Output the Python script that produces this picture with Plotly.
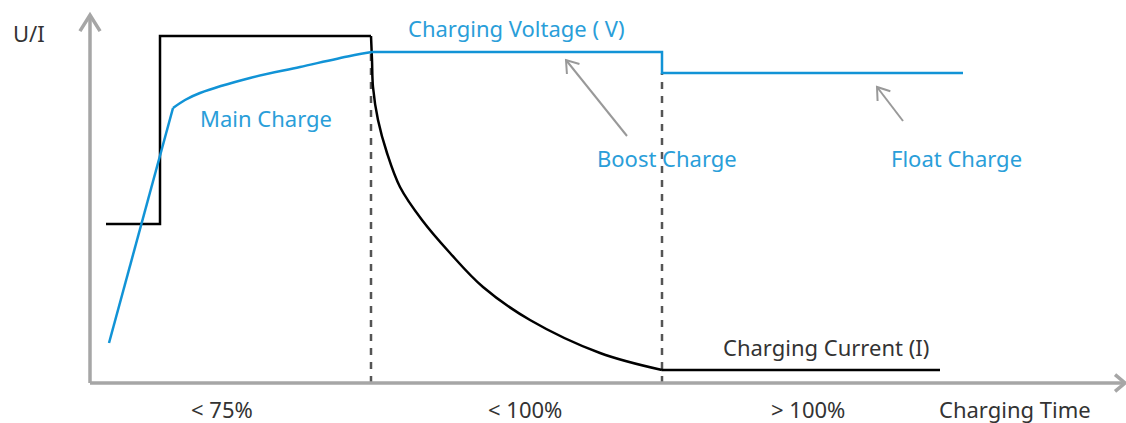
import math
import plotly.graph_objects as go

# ---- data (time units along x, level units along y; origin at axis corner) ----
# charging current: constant low phase, high constant phase, then decay, then float
current_step_time = [16, 70, 70, 281]
current_step_level = [159, 159, 347, 347]
current_decay_time = [281, 282, 283, 288, 297, 310, 332, 360, 393, 440, 510, 572]
current_decay_level = [347, 323, 296, 263, 230, 196, 163, 130, 96, 63, 30, 13]
current_float_time = [572, 850]
current_float_level = [13, 13]

# charging voltage: ramp, slow rise, boost level, float level
voltage_ramp_time = [19, 83]
voltage_ramp_level = [40, 275]
voltage_rise_time = [83, 95, 110, 160, 210, 260, 282]
voltage_rise_level = [275, 283, 290, 305, 316, 327, 331]
voltage_hold_time = [282, 572, 572, 873]
voltage_hold_level = [331, 331, 310, 310]

phase_bounds = [281, 572]
phase_tops = [331, 310]
phase_labels = ["&lt; 75%", "&lt; 100%", "&gt; 100%"]
phase_label_x = [132, 435, 718]

axis_x_end = 1035
axis_y_end = 368

BLUE = "#1193d6"
BLUE_TXT = "#2a9ed9"
GRAY = "#a6a6a6"
DARK = "#333333"
FONT = "Noto Sans"

fig = go.Figure()

def line_trace(x, y, color, shape="linear"):
    fig.add_trace(go.Scatter(x=x, y=y, mode="lines",
                             line=dict(color=color, width=2.5, shape=shape, smoothing=1.0),
                             hoverinfo="skip"))

line_trace(current_step_time, current_step_level, "#000000")
line_trace(current_decay_time, current_decay_level, "#000000", "spline")
line_trace(current_float_time, current_float_level, "#000000")
line_trace(voltage_ramp_time, voltage_ramp_level, BLUE)
line_trace(voltage_rise_time, voltage_rise_level, BLUE, "spline")
line_trace(voltage_hold_time, voltage_hold_level, BLUE)

shapes = []
for bx, top in zip(phase_bounds, phase_tops):
    shapes.append(dict(type="line", x0=bx, x1=bx, y0=0, y1=top,
                       line=dict(color="#555555", width=2.5, dash="7px,7px"), layer="below"))

def chevron(tx, ty, dx, dy, length, color, width, half_angle=35):
    n = math.hypot(dx, dy)
    ux, uy = dx / n, dy / n
    pts = []
    for ang in (math.radians(half_angle), -math.radians(half_angle)):
        ca, sa = math.cos(ang), math.sin(ang)
        bx = -(ux * ca - uy * sa)
        by = -(ux * sa + uy * ca)
        pts.append((tx + bx * length, ty + by * length))
    path = f"M {pts[0][0]},{pts[0][1]} L {tx},{ty} L {pts[1][0]},{pts[1][1]}"
    return dict(type="path", path=path, line=dict(color=color, width=width))

# axes
shapes.append(dict(type="line", x0=0, x1=axis_x_end, y0=0, y1=0, line=dict(color=GRAY, width=3.5)))
shapes.append(dict(type="line", x0=0, x1=0, y0=0, y1=axis_y_end, line=dict(color=GRAY, width=3.5)))
shapes.append(chevron(axis_x_end, 0, 1, 0, 13, GRAY, 3.5, 40))
shapes.append(chevron(0, axis_y_end, 0, 1, 19, GRAY, 3.5, 32))

# pointer arrows
pointers = [((537, 247), (476, 323)), ((813, 262), (787, 296))]
for (x0, y0), (x1, y1) in pointers:
    shapes.append(dict(type="line", x0=x0, y0=y0, x1=x1, y1=y1, line=dict(color="#999999", width=2)))
    shapes.append(chevron(x1, y1, x1 - x0, y1 - y0, 14, "#999999", 2))

fig.update_layout(shapes=shapes)

def label(x, y, text, color, size=22):
    fig.add_annotation(x=x, y=y, text=text, showarrow=False,
                       font=dict(family=FONT, size=size, color=color),
                       xanchor="center", yanchor="middle")

label(-61, 350, "U/I", DARK)
label(426, 355, "Charging Voltage ( V)", BLUE_TXT)
label(176, 265, "Main Charge", BLUE_TXT)
label(577, 225, "Boost Charge", BLUE_TXT)
label(866, 225, "Float Charge", BLUE_TXT)
label(736, 36, "Charging Current (I)", DARK)
for lx, lt in zip(phase_label_x, phase_labels):
    label(lx, -26, lt, DARK)
label(925, -26, "Charging Time", DARK)

fig.update_layout(
    width=1126, height=423,
    margin=dict(l=0, r=0, t=0, b=0),
    paper_bgcolor="white", plot_bgcolor="white",
    showlegend=False,
    xaxis=dict(range=[-90, 1036], visible=False, fixedrange=True),
    yaxis=dict(range=[-40, 383], visible=False, fixedrange=True),
)

fig.write_html("out.html", config={"displayModeBar": False},
               post_script="document.body.style.margin='0';document.body.style.overflow='hidden';")
